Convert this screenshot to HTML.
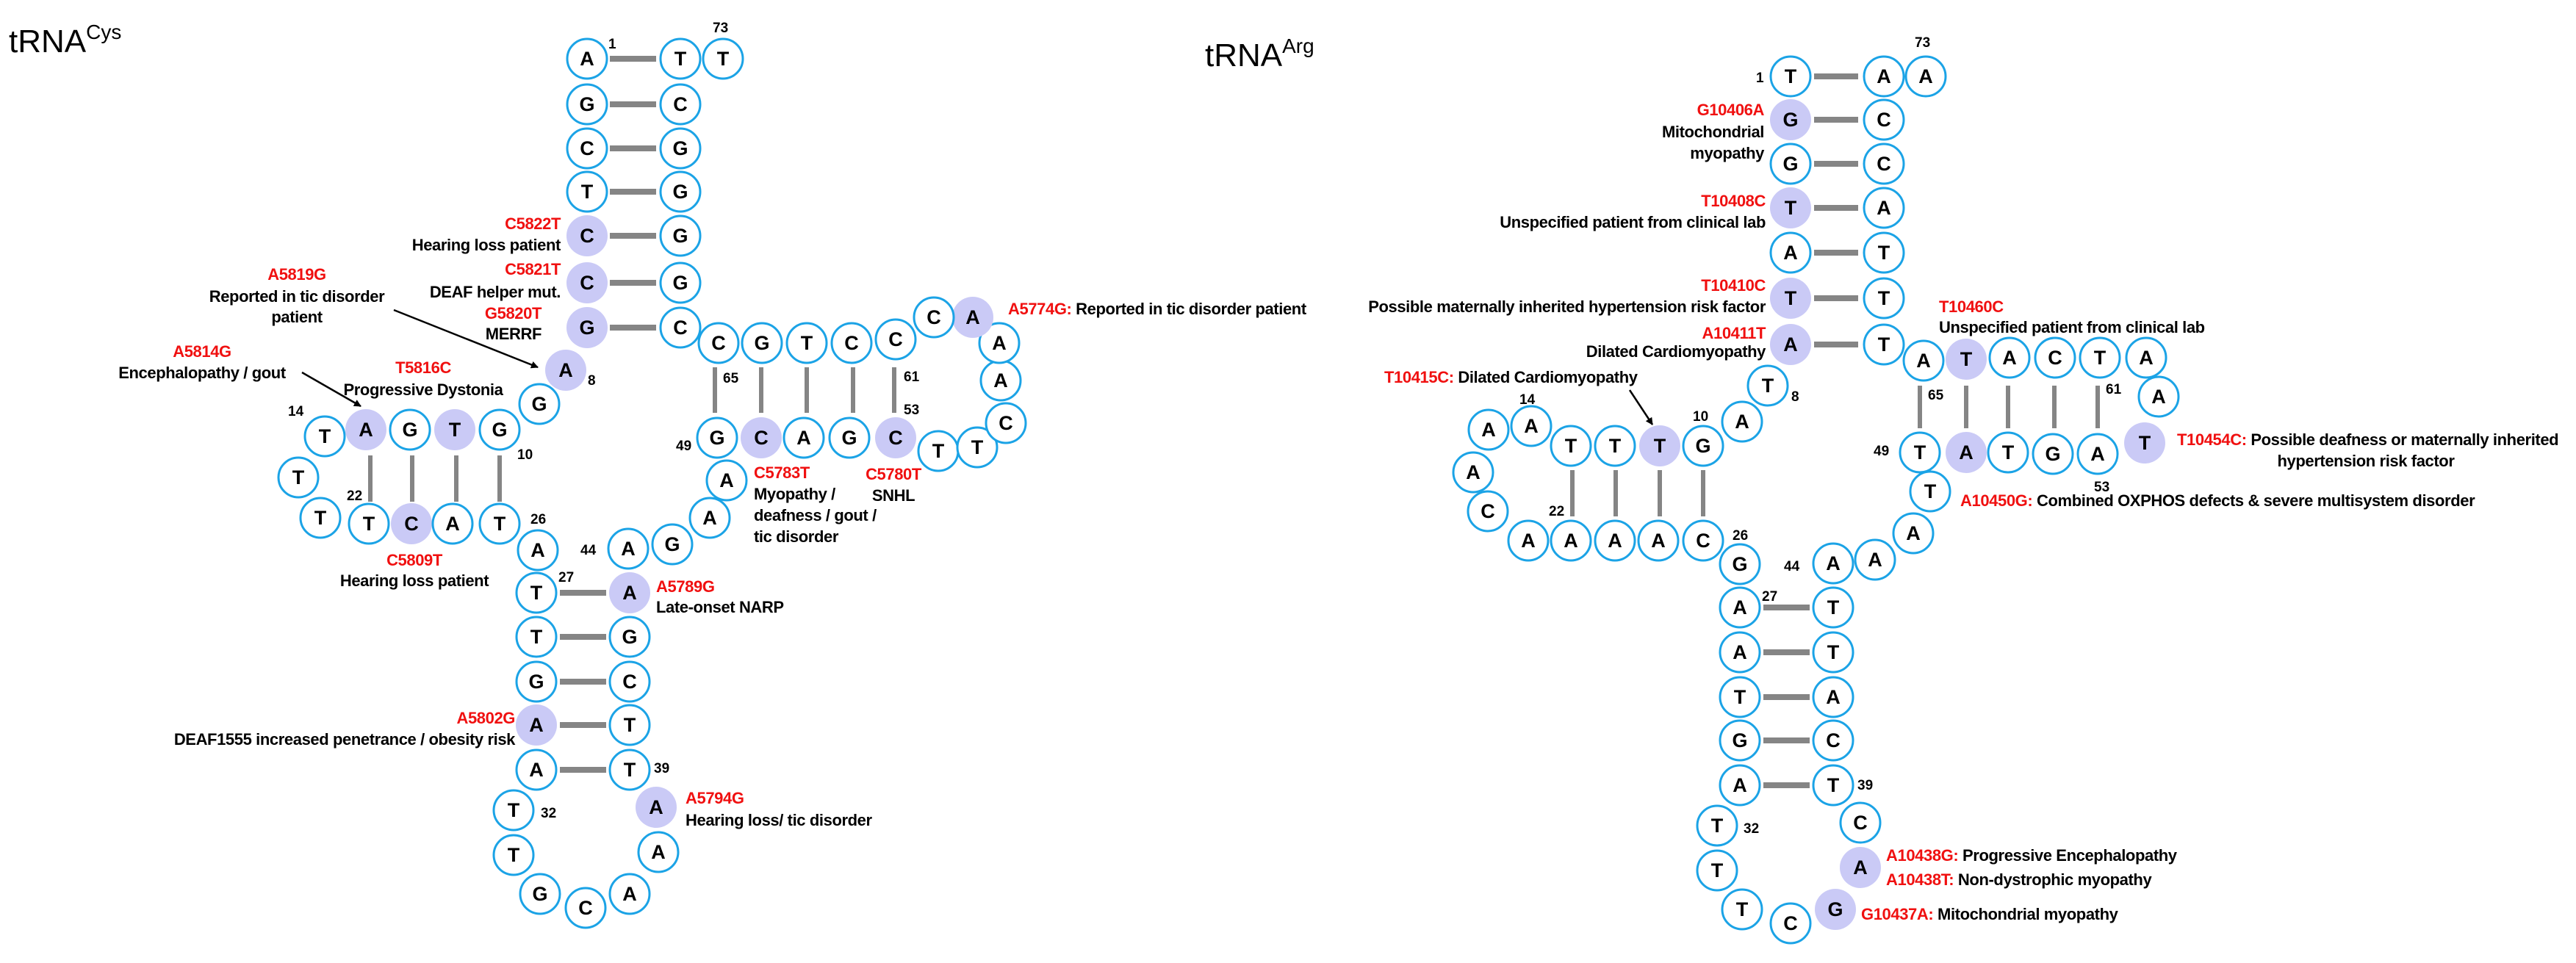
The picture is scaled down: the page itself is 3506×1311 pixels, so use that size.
<!DOCTYPE html>
<html><head><meta charset="utf-8"><style>
html,body{margin:0;padding:0;background:#fff}
svg{display:block}
.c{fill:#fff;stroke:#1ba3e6;stroke-width:3}
.h{fill:#cacaf6;stroke:none}
.n{font-family:"Liberation Sans",sans-serif;font-weight:bold;font-size:27px;text-anchor:middle;dominant-baseline:central;fill:#000}
.s{font-family:"Liberation Sans",sans-serif;font-weight:bold;font-size:19px;fill:#000}
.l{font-family:"Liberation Sans",sans-serif;font-weight:bold;font-size:22px;letter-spacing:-0.4px;fill:#000}
.r{fill:#f01010}
.e{text-anchor:end}.m{text-anchor:middle}
.bh{stroke:#858585;stroke-width:8}
.bv{stroke:#858585;stroke-width:6}
.t{font-family:"Liberation Sans",sans-serif;font-size:44px;fill:#000}
</style></head><body>
<svg width="3506" height="1311" viewBox="0 0 3506 1311" xmlns="http://www.w3.org/2000/svg">
<defs><marker id="ar" markerWidth="10" markerHeight="10" refX="9" refY="5" orient="auto" markerUnits="userSpaceOnUse"><path d="M0,0 L10,5 L0,10 z" fill="#000"/></marker></defs>
<text class="t" x="12" y="71">tRNA<tspan font-size="28" dy="-18">Cys</tspan></text>
<text class="t" x="1640" y="90">tRNA<tspan font-size="28" dy="-18">Arg</tspan></text>

<g class="bh">
<line x1="830" y1="80" x2="893" y2="80"/><line x1="830" y1="142" x2="893" y2="142"/><line x1="830" y1="202" x2="893" y2="202"/><line x1="830" y1="261" x2="893" y2="261"/><line x1="830" y1="321" x2="893" y2="321"/><line x1="830" y1="385" x2="893" y2="385"/><line x1="830" y1="446" x2="893" y2="446"/>
<line x1="762" y1="807" x2="825" y2="807"/><line x1="762" y1="867" x2="825" y2="867"/><line x1="762" y1="928" x2="825" y2="928"/><line x1="762" y1="987" x2="825" y2="987"/><line x1="762" y1="1048" x2="825" y2="1048"/>
<line x1="2469" y1="104" x2="2529" y2="104"/><line x1="2469" y1="163" x2="2529" y2="163"/><line x1="2469" y1="223" x2="2529" y2="223"/><line x1="2469" y1="283" x2="2529" y2="283"/><line x1="2469" y1="344" x2="2529" y2="344"/><line x1="2469" y1="406" x2="2529" y2="406"/><line x1="2469" y1="469" x2="2529" y2="469"/>
<line x1="2400" y1="827" x2="2463" y2="827"/><line x1="2400" y1="888" x2="2463" y2="888"/><line x1="2400" y1="949" x2="2463" y2="949"/><line x1="2400" y1="1008" x2="2463" y2="1008"/><line x1="2400" y1="1069" x2="2463" y2="1069"/>
</g>
<g class="bv">
<line x1="504" y1="620" x2="504" y2="683"/><line x1="561" y1="620" x2="561" y2="683"/><line x1="621" y1="620" x2="621" y2="683"/><line x1="680" y1="620" x2="680" y2="683"/>
<line x1="973" y1="500" x2="973" y2="562"/><line x1="1036" y1="500" x2="1036" y2="562"/><line x1="1098" y1="500" x2="1098" y2="562"/><line x1="1161" y1="500" x2="1161" y2="562"/><line x1="1217" y1="500" x2="1217" y2="562"/>
<line x1="2140" y1="640" x2="2140" y2="703"/><line x1="2199" y1="640" x2="2199" y2="703"/><line x1="2259" y1="640" x2="2259" y2="703"/><line x1="2318" y1="640" x2="2318" y2="703"/>
<line x1="2613" y1="525" x2="2613" y2="583"/><line x1="2676" y1="525" x2="2676" y2="583"/><line x1="2733" y1="525" x2="2733" y2="583"/><line x1="2796" y1="525" x2="2796" y2="583"/><line x1="2855" y1="525" x2="2855" y2="583"/>
</g>

<g>
<circle class="c" cx="799" cy="80" r="27"/><text class="n" x="799" y="80">A</text>
<circle class="c" cx="799" cy="142" r="27"/><text class="n" x="799" y="142">G</text>
<circle class="c" cx="799" cy="202" r="27"/><text class="n" x="799" y="202">C</text>
<circle class="c" cx="799" cy="261" r="27"/><text class="n" x="799" y="261">T</text>
<circle class="h" cx="799" cy="321" r="28"/><text class="n" x="799" y="321">C</text>
<circle class="h" cx="799" cy="385" r="28"/><text class="n" x="799" y="385">C</text>
<circle class="h" cx="799" cy="446" r="28"/><text class="n" x="799" y="446">G</text>
<circle class="c" cx="926" cy="80" r="27"/><text class="n" x="926" y="80">T</text>
<circle class="c" cx="926" cy="142" r="27"/><text class="n" x="926" y="142">C</text>
<circle class="c" cx="926" cy="202" r="27"/><text class="n" x="926" y="202">G</text>
<circle class="c" cx="926" cy="261" r="27"/><text class="n" x="926" y="261">G</text>
<circle class="c" cx="926" cy="321" r="27"/><text class="n" x="926" y="321">G</text>
<circle class="c" cx="926" cy="385" r="27"/><text class="n" x="926" y="385">G</text>
<circle class="c" cx="926" cy="446" r="27"/><text class="n" x="926" y="446">C</text>
<circle class="c" cx="984" cy="80" r="27"/><text class="n" x="984" y="80">T</text>
<circle class="h" cx="770" cy="504" r="28"/><text class="n" x="770" y="504">A</text>
<circle class="c" cx="734" cy="550" r="27"/><text class="n" x="734" y="550">G</text>
<circle class="c" cx="680" cy="585" r="27"/><text class="n" x="680" y="585">G</text>
<circle class="h" cx="619" cy="585" r="28"/><text class="n" x="619" y="585">T</text>
<circle class="c" cx="558" cy="585" r="27"/><text class="n" x="558" y="585">G</text>
<circle class="h" cx="498" cy="585" r="28"/><text class="n" x="498" y="585">A</text>
<circle class="c" cx="442" cy="594" r="27"/><text class="n" x="442" y="594">T</text>
<circle class="c" cx="406" cy="650" r="27"/><text class="n" x="406" y="650">T</text>
<circle class="c" cx="436" cy="705" r="27"/><text class="n" x="436" y="705">T</text>
<circle class="c" cx="502" cy="713" r="27"/><text class="n" x="502" y="713">T</text>
<circle class="h" cx="560" cy="713" r="28"/><text class="n" x="560" y="713">C</text>
<circle class="c" cx="616" cy="713" r="27"/><text class="n" x="616" y="713">A</text>
<circle class="c" cx="680" cy="713" r="27"/><text class="n" x="680" y="713">T</text>
<circle class="c" cx="732" cy="749" r="27"/><text class="n" x="732" y="749">A</text>
<circle class="c" cx="730" cy="807" r="27"/><text class="n" x="730" y="807">T</text>
<circle class="c" cx="730" cy="867" r="27"/><text class="n" x="730" y="867">T</text>
<circle class="c" cx="730" cy="928" r="27"/><text class="n" x="730" y="928">G</text>
<circle class="h" cx="730" cy="987" r="28"/><text class="n" x="730" y="987">A</text>
<circle class="c" cx="730" cy="1048" r="27"/><text class="n" x="730" y="1048">A</text>
<circle class="h" cx="857" cy="807" r="28"/><text class="n" x="857" y="807">A</text>
<circle class="c" cx="857" cy="867" r="27"/><text class="n" x="857" y="867">G</text>
<circle class="c" cx="857" cy="928" r="27"/><text class="n" x="857" y="928">C</text>
<circle class="c" cx="857" cy="987" r="27"/><text class="n" x="857" y="987">T</text>
<circle class="c" cx="857" cy="1048" r="27"/><text class="n" x="857" y="1048">T</text>
<circle class="c" cx="699" cy="1103" r="27"/><text class="n" x="699" y="1103">T</text>
<circle class="c" cx="699" cy="1164" r="27"/><text class="n" x="699" y="1164">T</text>
<circle class="c" cx="735" cy="1217" r="27"/><text class="n" x="735" y="1217">G</text>
<circle class="c" cx="797" cy="1236" r="27"/><text class="n" x="797" y="1236">C</text>
<circle class="c" cx="857" cy="1217" r="27"/><text class="n" x="857" y="1217">A</text>
<circle class="c" cx="896" cy="1160" r="27"/><text class="n" x="896" y="1160">A</text>
<circle class="h" cx="893" cy="1099" r="28"/><text class="n" x="893" y="1099">A</text>
<circle class="c" cx="855" cy="747" r="27"/><text class="n" x="855" y="747">A</text>
<circle class="c" cx="915" cy="741" r="27"/><text class="n" x="915" y="741">G</text>
<circle class="c" cx="966" cy="705" r="27"/><text class="n" x="966" y="705">A</text>
<circle class="c" cx="989" cy="654" r="27"/><text class="n" x="989" y="654">A</text>
<circle class="c" cx="976" cy="596" r="27"/><text class="n" x="976" y="596">G</text>
<circle class="h" cx="1036" cy="596" r="28"/><text class="n" x="1036" y="596">C</text>
<circle class="c" cx="1094" cy="596" r="27"/><text class="n" x="1094" y="596">A</text>
<circle class="c" cx="1156" cy="596" r="27"/><text class="n" x="1156" y="596">G</text>
<circle class="h" cx="1219" cy="596" r="28"/><text class="n" x="1219" y="596">C</text>
<circle class="c" cx="1277" cy="614" r="27"/><text class="n" x="1277" y="614">T</text>
<circle class="c" cx="1330" cy="609" r="27"/><text class="n" x="1330" y="609">T</text>
<circle class="c" cx="1369" cy="576" r="27"/><text class="n" x="1369" y="576">C</text>
<circle class="c" cx="1362" cy="518" r="27"/><text class="n" x="1362" y="518">A</text>
<circle class="c" cx="1360" cy="467" r="27"/><text class="n" x="1360" y="467">A</text>
<circle class="h" cx="1324" cy="432" r="28"/><text class="n" x="1324" y="432">A</text>
<circle class="c" cx="1271" cy="432" r="27"/><text class="n" x="1271" y="432">C</text>
<circle class="c" cx="1219" cy="462" r="27"/><text class="n" x="1219" y="462">C</text>
<circle class="c" cx="1159" cy="467" r="27"/><text class="n" x="1159" y="467">C</text>
<circle class="c" cx="1098" cy="467" r="27"/><text class="n" x="1098" y="467">T</text>
<circle class="c" cx="1037" cy="467" r="27"/><text class="n" x="1037" y="467">G</text>
<circle class="c" cx="978" cy="467" r="27"/><text class="n" x="978" y="467">C</text>
</g>

<g class="s">
<text x="828" y="66">1</text><text x="970" y="44">73</text><text x="800" y="524">8</text>
<text x="392" y="566">14</text><text x="704" y="625">10</text><text x="472" y="681">22</text><text x="722" y="713">26</text>
<text x="790" y="755">44</text><text x="760" y="792">27</text><text x="890" y="1052">39</text><text x="736" y="1113">32</text>
<text x="984" y="521">65</text><text x="1230" y="519">61</text><text x="1230" y="564">53</text><text x="920" y="613">49</text>
</g>
<g class="l">
<text class="r e" x="763" y="312">C5822T</text><text class="e" x="763" y="341">Hearing loss patient</text>
<text class="r e" x="763" y="374">C5821T</text><text class="e" x="763" y="405">DEAF helper mut.</text>
<text class="r e" x="737" y="434">G5820T</text><text class="e" x="737" y="462">MERRF</text>
<text class="r m" x="404" y="381">A5819G</text><text class="m" x="404" y="411">Reported in tic disorder</text><text class="m" x="404" y="439">patient</text>
<text class="r m" x="275" y="486">A5814G</text><text class="m" x="275" y="515">Encephalopathy / gout</text>
<text class="r m" x="576" y="508">T5816C</text><text class="m" x="576" y="538">Progressive Dystonia</text>
<text x="1372" y="428"><tspan class="r">A5774G:</tspan> Reported in tic disorder patient</text>
<text class="r" x="1026" y="651">C5783T</text><text x="1026" y="680">Myopathy /</text><text x="1026" y="709">deafness / gout /</text><text x="1026" y="738">tic disorder</text>
<text class="r m" x="1216" y="653">C5780T</text><text class="m" x="1216" y="682">SNHL</text>
<text class="r m" x="564" y="770">C5809T</text><text class="m" x="564" y="798">Hearing loss patient</text>
<text class="r" x="893" y="806">A5789G</text><text x="893" y="834">Late-onset NARP</text>
<text class="r e" x="701" y="985">A5802G</text><text class="e" x="701" y="1014">DEAF1555 increased penetrance / obesity risk</text>
<text class="r" x="933" y="1094">A5794G</text><text x="933" y="1124">Hearing loss/ tic disorder</text>
</g>
<g stroke="#000" stroke-width="2.5">
<line x1="536" y1="422" x2="732" y2="500" marker-end="url(#ar)"/>
<line x1="411" y1="507" x2="491" y2="553" marker-end="url(#ar)"/>
<line x1="2218" y1="531" x2="2249" y2="578" marker-end="url(#ar)"/>
</g>

<g>
<circle class="c" cx="2437" cy="104" r="27"/><text class="n" x="2437" y="104">T</text>
<circle class="h" cx="2437" cy="163" r="28"/><text class="n" x="2437" y="163">G</text>
<circle class="c" cx="2437" cy="223" r="27"/><text class="n" x="2437" y="223">G</text>
<circle class="h" cx="2437" cy="283" r="28"/><text class="n" x="2437" y="283">T</text>
<circle class="c" cx="2437" cy="344" r="27"/><text class="n" x="2437" y="344">A</text>
<circle class="h" cx="2437" cy="406" r="28"/><text class="n" x="2437" y="406">T</text>
<circle class="h" cx="2437" cy="469" r="28"/><text class="n" x="2437" y="469">A</text>
<circle class="c" cx="2564" cy="104" r="27"/><text class="n" x="2564" y="104">A</text>
<circle class="c" cx="2564" cy="163" r="27"/><text class="n" x="2564" y="163">C</text>
<circle class="c" cx="2564" cy="223" r="27"/><text class="n" x="2564" y="223">C</text>
<circle class="c" cx="2564" cy="283" r="27"/><text class="n" x="2564" y="283">A</text>
<circle class="c" cx="2564" cy="344" r="27"/><text class="n" x="2564" y="344">T</text>
<circle class="c" cx="2564" cy="406" r="27"/><text class="n" x="2564" y="406">T</text>
<circle class="c" cx="2564" cy="469" r="27"/><text class="n" x="2564" y="469">T</text>
<circle class="c" cx="2621" cy="104" r="27"/><text class="n" x="2621" y="104">A</text>
<circle class="c" cx="2406" cy="525" r="27"/><text class="n" x="2406" y="525">T</text>
<circle class="c" cx="2371" cy="574" r="27"/><text class="n" x="2371" y="574">A</text>
<circle class="c" cx="2318" cy="607" r="27"/><text class="n" x="2318" y="607">G</text>
<circle class="h" cx="2259" cy="607" r="28"/><text class="n" x="2259" y="607">T</text>
<circle class="c" cx="2198" cy="607" r="27"/><text class="n" x="2198" y="607">T</text>
<circle class="c" cx="2138" cy="607" r="27"/><text class="n" x="2138" y="607">T</text>
<circle class="c" cx="2084" cy="580" r="27"/><text class="n" x="2084" y="580">A</text>
<circle class="c" cx="2026" cy="585" r="27"/><text class="n" x="2026" y="585">A</text>
<circle class="c" cx="2005" cy="643" r="27"/><text class="n" x="2005" y="643">A</text>
<circle class="c" cx="2025" cy="696" r="27"/><text class="n" x="2025" y="696">C</text>
<circle class="c" cx="2080" cy="736" r="27"/><text class="n" x="2080" y="736">A</text>
<circle class="c" cx="2138" cy="736" r="27"/><text class="n" x="2138" y="736">A</text>
<circle class="c" cx="2198" cy="736" r="27"/><text class="n" x="2198" y="736">A</text>
<circle class="c" cx="2257" cy="736" r="27"/><text class="n" x="2257" y="736">A</text>
<circle class="c" cx="2318" cy="736" r="27"/><text class="n" x="2318" y="736">C</text>
<circle class="c" cx="2368" cy="768" r="27"/><text class="n" x="2368" y="768">G</text>
<circle class="c" cx="2368" cy="827" r="27"/><text class="n" x="2368" y="827">A</text>
<circle class="c" cx="2368" cy="888" r="27"/><text class="n" x="2368" y="888">A</text>
<circle class="c" cx="2368" cy="949" r="27"/><text class="n" x="2368" y="949">T</text>
<circle class="c" cx="2368" cy="1008" r="27"/><text class="n" x="2368" y="1008">G</text>
<circle class="c" cx="2368" cy="1069" r="27"/><text class="n" x="2368" y="1069">A</text>
<circle class="c" cx="2495" cy="827" r="27"/><text class="n" x="2495" y="827">T</text>
<circle class="c" cx="2495" cy="888" r="27"/><text class="n" x="2495" y="888">T</text>
<circle class="c" cx="2495" cy="949" r="27"/><text class="n" x="2495" y="949">A</text>
<circle class="c" cx="2495" cy="1008" r="27"/><text class="n" x="2495" y="1008">C</text>
<circle class="c" cx="2495" cy="1069" r="27"/><text class="n" x="2495" y="1069">T</text>
<circle class="c" cx="2337" cy="1124" r="27"/><text class="n" x="2337" y="1124">T</text>
<circle class="c" cx="2337" cy="1185" r="27"/><text class="n" x="2337" y="1185">T</text>
<circle class="c" cx="2371" cy="1238" r="27"/><text class="n" x="2371" y="1238">T</text>
<circle class="c" cx="2437" cy="1257" r="27"/><text class="n" x="2437" y="1257">C</text>
<circle class="h" cx="2498" cy="1238" r="28"/><text class="n" x="2498" y="1238">G</text>
<circle class="h" cx="2532" cy="1181" r="28"/><text class="n" x="2532" y="1181">A</text>
<circle class="c" cx="2532" cy="1120" r="27"/><text class="n" x="2532" y="1120">C</text>
<circle class="c" cx="2495" cy="767" r="27"/><text class="n" x="2495" y="767">A</text>
<circle class="c" cx="2552" cy="762" r="27"/><text class="n" x="2552" y="762">A</text>
<circle class="c" cx="2604" cy="726" r="27"/><text class="n" x="2604" y="726">A</text>
<circle class="c" cx="2627" cy="669" r="27"/><text class="n" x="2627" y="669">T</text>
<circle class="c" cx="2613" cy="616" r="27"/><text class="n" x="2613" y="616">T</text>
<circle class="h" cx="2676" cy="616" r="28"/><text class="n" x="2676" y="616">A</text>
<circle class="c" cx="2733" cy="616" r="27"/><text class="n" x="2733" y="616">T</text>
<circle class="c" cx="2794" cy="618" r="27"/><text class="n" x="2794" y="618">G</text>
<circle class="c" cx="2855" cy="618" r="27"/><text class="n" x="2855" y="618">A</text>
<circle class="h" cx="2919" cy="603" r="28"/><text class="n" x="2919" y="603">T</text>
<circle class="c" cx="2938" cy="540" r="27"/><text class="n" x="2938" y="540">A</text>
<circle class="c" cx="2921" cy="487" r="27"/><text class="n" x="2921" y="487">A</text>
<circle class="c" cx="2858" cy="487" r="27"/><text class="n" x="2858" y="487">T</text>
<circle class="c" cx="2797" cy="487" r="27"/><text class="n" x="2797" y="487">C</text>
<circle class="c" cx="2735" cy="487" r="27"/><text class="n" x="2735" y="487">A</text>
<circle class="h" cx="2676" cy="489" r="28"/><text class="n" x="2676" y="489">T</text>
<circle class="c" cx="2618" cy="491" r="27"/><text class="n" x="2618" y="491">A</text>
</g>
<g class="s">
<text x="2390" y="112">1</text><text x="2606" y="64">73</text><text x="2438" y="546">8</text>
<text x="2068" y="550">14</text><text x="2304" y="573">10</text><text x="2108" y="702">22</text><text x="2358" y="735">26</text>
<text x="2428" y="777">44</text><text x="2398" y="818">27</text><text x="2528" y="1075">39</text><text x="2373" y="1134">32</text>
<text x="2624" y="544">65</text><text x="2866" y="536">61</text><text x="2850" y="669">53</text><text x="2550" y="620">49</text>
</g>
<g class="l">
<text class="r e" x="2401" y="157">G10406A</text><text class="e" x="2401" y="187">Mitochondrial</text><text class="e" x="2401" y="216">myopathy</text>
<text class="r e" x="2403" y="281">T10408C</text><text class="e" x="2403" y="310">Unspecified patient from clinical lab</text>
<text class="r e" x="2403" y="396">T10410C</text><text class="e" x="2403" y="425">Possible maternally inherited hypertension risk factor</text>
<text class="r e" x="2403" y="461">A10411T</text><text class="e" x="2403" y="486">Dilated Cardiomyopathy</text>
<text class="r" x="2639" y="425">T10460C</text><text x="2639" y="453">Unspecified patient from clinical lab</text>
<text x="1884" y="521"><tspan class="r">T10415C:</tspan> Dilated Cardiomyopathy</text>
<text x="2963" y="606"><tspan class="r">T10454C:</tspan> Possible deafness or maternally inherited</text><text class="m" x="3220" y="635">hypertension risk factor</text>
<text x="2668" y="689"><tspan class="r">A10450G:</tspan> Combined OXPHOS defects &amp; severe multisystem disorder</text>
<text x="2567" y="1172"><tspan class="r">A10438G:</tspan> Progressive Encephalopathy</text>
<text x="2567" y="1205"><tspan class="r">A10438T:</tspan> Non-dystrophic myopathy</text>
<text x="2533" y="1252"><tspan class="r">G10437A:</tspan> Mitochondrial myopathy</text>
</g>
</svg>
</body></html>
